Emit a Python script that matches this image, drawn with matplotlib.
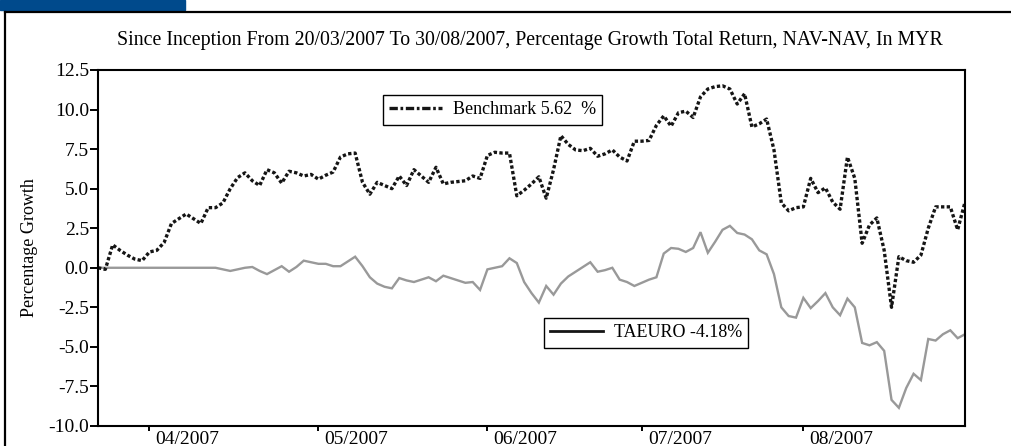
import numpy as np
import matplotlib
matplotlib.use('Agg')
import matplotlib.pyplot as plt
from matplotlib.lines import Line2D
from matplotlib.patches import Rectangle

plt.rcParams['font.family'] = ['Liberation Serif', 'DejaVu Sans']

# trading sessions since inception (20/03/2007 .. 30/08/2007)
benchmark = [
    0.0, -0.1, 1.45, 1.1, 0.8, 0.55, 0.45, 1.0, 1.1, 1.6,
    2.8, 3.1, 3.4, 3.1, 2.8, 3.8, 3.8, 4.1, 5.0, 5.7,
    6.0, 5.5, 5.2, 6.2, 6.0, 5.35, 6.1, 6.0, 5.8, 5.9,
    5.6, 5.85, 6.05, 7.0, 7.2, 7.25, 5.4, 4.65, 5.4, 5.2,
    5.0, 5.8, 5.2, 6.2, 5.8, 5.4, 6.35, 5.3, 5.4, 5.45,
    5.5, 5.8, 5.65, 7.1, 7.3, 7.25, 7.25, 4.55, 4.9, 5.3,
    5.75, 4.4, 6.2, 8.35, 7.8, 7.45, 7.4, 7.55, 7.05, 7.2,
    7.45, 7.0, 6.75, 8.0, 8.0, 8.05, 9.0, 9.6, 8.95, 9.8,
    9.9, 9.5, 10.8, 11.3, 11.45, 11.5, 11.3, 10.35, 11.0, 8.9,
    9.1, 9.4, 7.45, 4.1, 3.6, 3.8, 3.85, 5.65, 4.75, 5.05,
    4.15, 3.7, 7.0, 5.65, 1.55, 2.7, 3.15, 1.1, -2.5, 0.7,
    0.45, 0.35, 0.8, 2.5, 3.85, 3.85, 3.85, 2.4, 4.15,
]
taeuro = [
    0.0, 0.0, 0.0, 0.0, 0.0, 0.0, 0.0, 0.0, 0.0, 0.0,
    0.0, 0.0, 0.0, 0.0, 0.0, 0.0, 0.0, -0.1, -0.2, -0.1,
    0.0, 0.05, -0.2, -0.4, -0.15, 0.1, -0.25, 0.05, 0.45, 0.35,
    0.25, 0.25, 0.1, 0.1, 0.4, 0.7, 0.1, -0.6, -1.0, -1.2,
    -1.3, -0.65, -0.8, -0.9, -0.75, -0.6, -0.85, -0.5, -0.65, -0.8,
    -0.95, -0.9, -1.4, -0.1, 0.0, 0.1, 0.6, 0.3, -0.9, -1.6,
    -2.2, -1.15, -1.7, -1.0, -0.55, -0.25, 0.05, 0.35, -0.25, -0.15,
    0.0, -0.75, -0.9, -1.15, -0.95, -0.75, -0.6, 0.9, 1.25, 1.2,
    1.0, 1.25, 2.25, 0.95, 1.65, 2.4, 2.65, 2.2, 2.1, 1.8,
    1.1, 0.85, -0.4, -2.5, -3.05, -3.15, -1.9, -2.55, -2.1, -1.6,
    -2.5, -3.0, -1.95, -2.5, -4.75, -4.9, -4.7, -5.25, -8.35, -8.85,
    -7.6, -6.7, -7.1, -4.5, -4.6, -4.2, -3.95, -4.45, -4.2,
]
month_pos = [7, 30, 53, 74, 96]
month_labels = ['04/2007', '05/2007', '06/2007', '07/2007', '08/2007']
y_ticks = [-10.0, -7.5, -5.0, -2.5, 0.0, 2.5, 5.0, 7.5, 10.0, 12.5]

x = np.arange(len(benchmark))

fig = plt.figure(figsize=(10.12, 4.46), dpi=100)
ax = fig.add_axes([98 / 1012, 20 / 446, 867 / 1012, 356 / 446])

ax.plot(x, taeuro, color='#999999', lw=1.7, solid_joinstyle='miter')
ax.plot(x, benchmark, color='#151515', lw=2.4, linestyle=(0, (1, 0.7)),
        dash_capstyle='butt')

ax.set_xlim(0, len(benchmark) - 1)
ax.set_ylim(-10, 12.5)
ax.set_yticks(y_ticks)
ax.set_yticklabels(['%.1f' % v for v in y_ticks])
ax.set_xticks(month_pos)
ax.set_xticklabels([])
# month labels sit just right of their tick marks
for pos, lab in zip(month_pos, month_labels):
    ax.annotate(lab, xy=(pos, 0), xycoords=('data', 'axes fraction'),
                xytext=(4.5, -3.5), textcoords='offset points',
                ha='left', va='top', fontsize=14)
ax.tick_params(axis='y', direction='out', length=5.5, width=1.4, pad=1, labelsize=14)
ax.tick_params(axis='x', direction='out', length=3.5, width=1.4)
for sp in ax.spines.values():
    sp.set_linewidth(1.5)

ax.set_ylabel('Percentage Growth', fontsize=13, labelpad=7)
fig.text(530 / 1012, 1 - 41 / 446,
         'Since Inception From 20/03/2007 To 30/08/2007, Percentage Growth Total Return, NAV-NAV, In MYR',
         ha='center', va='center', fontsize=14.3)

h1 = Line2D([], [], color='#151515', lw=2.4, linestyle=(0, (2.5, 0.8, 0.8, 0.8)))
leg1 = ax.legend([h1], ['Benchmark 5.62  %'], loc='upper left',
                 bbox_to_anchor=((383 - 98) / 867, (426 - 95) / 356),
                 fancybox=False, edgecolor='black', framealpha=1,
                 fontsize=13, handlelength=2.9, borderpad=0.35,
                 handletextpad=0.6, borderaxespad=0)
leg1.get_frame().set_linewidth(1.0)
ax.add_artist(leg1)
h2 = Line2D([], [], color='#151515', lw=2.0)
leg2 = ax.legend([h2], ['TAEURO -4.18%'], loc='upper left',
                 bbox_to_anchor=((544 - 98) / 867, (426 - 318) / 356),
                 fancybox=False, edgecolor='black', framealpha=1,
                 fontsize=13, handlelength=2.9, borderpad=0.35,
                 handletextpad=0.6, borderaxespad=0)
leg2.get_frame().set_linewidth(1.0)

# page decorations: blue header strip and outer frame
fig.patches.append(Rectangle((0, 1 - 10 / 446), 185 / 1012, 10 / 446,
                             transform=fig.transFigure, color='#004a8c', zorder=0))
fig.lines.append(Line2D([5 / 1012, 1], [1 - 11.5 / 446, 1 - 11.5 / 446],
                        transform=fig.transFigure, color='black', lw=1.6))
fig.lines.append(Line2D([5.5 / 1012, 5.5 / 1012], [0, 1 - 11.5 / 446],
                        transform=fig.transFigure, color='black', lw=1.6))

fig.savefig('out.png', dpi=100)
